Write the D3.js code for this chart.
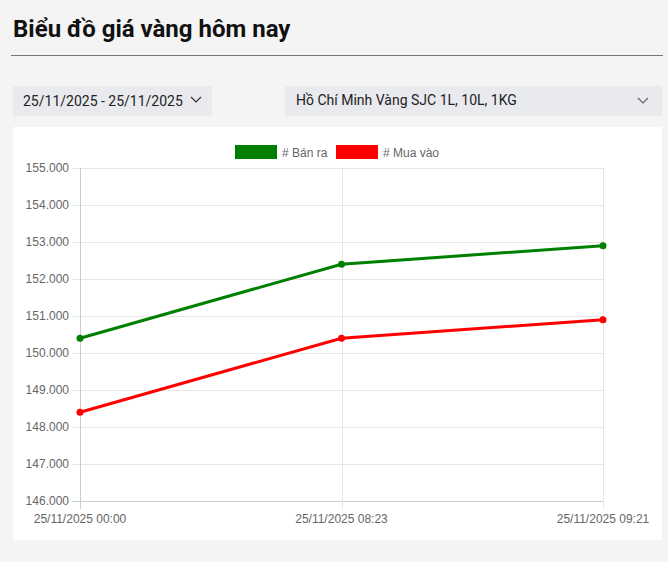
<!DOCTYPE html>
<html><head><meta charset="utf-8">
<script src="https://cdn.jsdelivr.net/npm/d3@7"></script>
<style>
body{margin:0;background:#f4f4f4;font-family:Roboto,"Noto Sans",sans-serif;}
svg{display:block;}
</style></head><body>
<svg id="c" width="668" height="562"></svg>
<script>
const categories = ["25/11/2025 00:00", "25/11/2025 08:23", "25/11/2025 09:21"];
const banRa = [150400, 152400, 152900];
const muaVao = [148400, 150400, 150900];
const yTicks = [146000,147000,148000,149000,150000,151000,152000,153000,154000,155000];
const seriesNames = ["# Bán ra", "# Mua vào"];
const seriesColors = ["#008000", "#ff0000"];

const svg = d3.select("#c");
// header
svg.append("text").attr("x",13).attr("y",37).attr("font-size",24).attr("font-weight",700)
  .attr("fill","#111").attr("font-family","Roboto").text("Biểu đồ giá vàng hôm nay");
svg.append("line").attr("x1",11).attr("x2",663).attr("y1",55.5).attr("y2",55.5).attr("stroke","#777").attr("stroke-width",1);
// dropdowns
svg.append("rect").attr("x",13).attr("y",86).attr("width",199).attr("height",30).attr("fill","#e9eaee");
svg.append("text").attr("x",23).attr("y",106).attr("font-size",14).attr("fill","#222").text("25/11/2025 - 25/11/2025");
svg.append("path").attr("d","M191,97 l5,5 l5,-5").attr("fill","none").attr("stroke","#333").attr("stroke-width",1.2);
svg.append("rect").attr("x",285).attr("y",86).attr("width",377).attr("height",30).attr("fill","#e9eaee");
svg.append("text").attr("x",296).attr("y",105).attr("font-size",14).attr("fill","#222").text("Hồ Chí Minh Vàng SJC 1L, 10L, 1KG");
svg.append("path").attr("d","M638,98 l5,5 l5,-5").attr("fill","none").attr("stroke","#666").attr("stroke-width",1.2);
// panel
svg.append("rect").attr("x",13).attr("y",127).attr("width",649).attr("height",413).attr("fill","#fff");

const x = d3.scalePoint().domain(categories).range([80,603]);
const y = d3.scaleLinear().domain([146000,155000]).range([501,168]);
const g = svg.append("g").attr("font-family","'Liberation Sans',Arial,sans-serif");

// horizontal grid + ticks
yTicks.forEach(t=>{
  g.append("line").attr("x1",72).attr("x2",603).attr("y1",Math.round(y(t))+0.5).attr("y2",Math.round(y(t))+0.5)
   .attr("stroke", t===146000 ? "#cccccc" : "#e6e6e6").attr("stroke-width",1);
  g.append("text").attr("x",69).attr("y",y(t)+4).attr("text-anchor","end").attr("font-size",12).attr("fill","#666")
   .text(d3.format(".3f")(t/1000));
});
// vertical grid
categories.forEach((c,i)=>{
  g.append("line").attr("x1",Math.round(x(c))+0.5).attr("x2",Math.round(x(c))+0.5).attr("y1",168).attr("y2",509)
   .attr("stroke", i===0 ? "#cccccc" : "#e6e6e6").attr("stroke-width",1);
  g.append("text").attr("x",x(c)).attr("y",523).attr("text-anchor","middle").attr("font-size",12).attr("fill","#666").text(c);
});

// lines
const line = d3.line().x((d,i)=>x(categories[i])).y(d=>y(d));
[banRa, muaVao].forEach((s,k)=>{
  g.append("path").datum(s).attr("d",line).attr("fill","none").attr("stroke",seriesColors[k]).attr("stroke-width",3);
  g.selectAll(null).data(s).enter().append("circle").attr("cx",(d,i)=>x(categories[i])).attr("cy",d=>y(d)).attr("r",3.5)
   .attr("fill",seriesColors[k]);
});

// legend
const lx = [235, 336];
seriesNames.forEach((n,k)=>{
  g.append("rect").attr("x",lx[k]).attr("y",145).attr("width",42).attr("height",14).attr("fill",seriesColors[k]);
  g.append("text").attr("x",lx[k]+47).attr("y",156.5).attr("font-size",12).attr("fill","#666").text(n);
});
</script>
</body></html>
